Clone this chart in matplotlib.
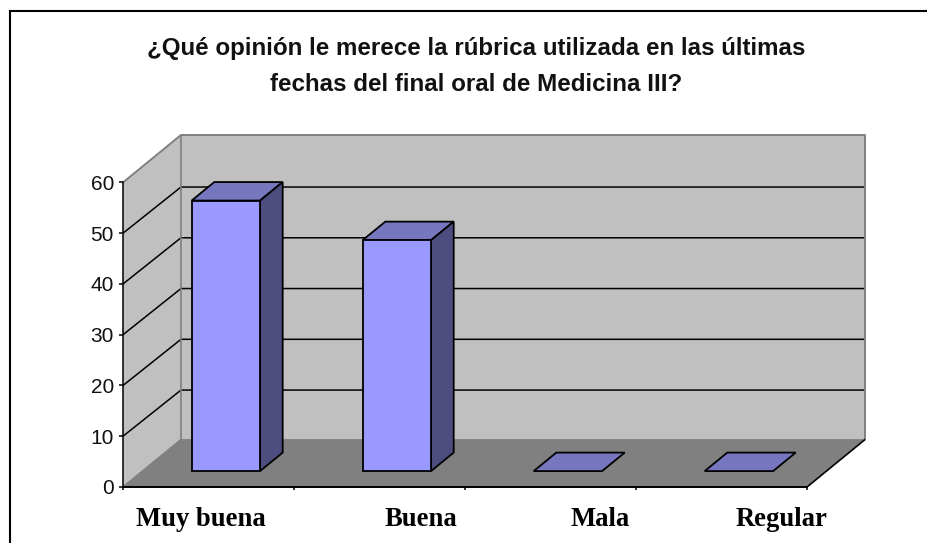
import matplotlib
matplotlib.use('Agg')
import matplotlib.pyplot as plt
from matplotlib.lines import Line2D
from matplotlib.patches import Polygon

categories = ['Muy buena', 'Buena', 'Mala', 'Regular']
values = [53.3, 45.5, 0, 0]
y_ticks = [0, 10, 20, 30, 40, 50, 60]
title = '¿Qué opinión le merece la rúbrica utilizada en las últimas\nfechas del final oral de Medicina III?'

W, H = 927, 543
DX, DY = 0.339, 9.35        # oblique offset of the full chart depth, in data units
GRID_DY = 9.1               # gridlines rise a little less than the floor does
BAR_WIDTH = 0.4
BAR_SHIFT = -0.012
BAR_FRONT, BAR_BACK = 0.335, 0.725   # where the bars sit along the depth
LABEL_POS = [0.455, 1.74, 2.79, 3.85]   # category labels are not centred under their bars

WALL = '#C0C0C0'
FLOOR = '#808080'
EDGE = '#808080'
BAR_FACE = '#9999FF'
BAR_TOP = '#7777C0'
BAR_SIDE = '#4D4D80'


def poly(ax, pts, color, edge='none', lw=0, z=1):
    ax.add_patch(Polygon(pts, closed=True, facecolor=color, edgecolor=edge, linewidth=lw,
                         zorder=z, joinstyle='miter', clip_on=False))


def draw_walls(ax):
    ymax = y_ticks[-1]
    xmax = len(categories)
    poly(ax, [(DX, DY), (xmax + DX, DY), (xmax + DX, ymax + DY), (DX, ymax + DY)], WALL)
    poly(ax, [(0, 0), (DX, DY), (DX, ymax + DY), (0, ymax)], WALL)
    poly(ax, [(0, 0), (xmax, 0), (xmax + DX, DY), (DX, DY)], FLOOR)

    # rejilla: pared lateral y pared del fondo
    for t in y_ticks[1:-1]:
        ax.plot([0, DX, xmax + DX], [t, t + GRID_DY, t + GRID_DY], color='black', lw=1.1, zorder=2,
                solid_joinstyle='miter')

    ax.plot([0, DX, xmax + DX, xmax + DX], [ymax, ymax + DY, ymax + DY, DY], color=EDGE, lw=1.4,
            zorder=2, clip_on=False)
    ax.plot([0, DX, DX], [0, DY, ymax + DY], color=EDGE, lw=1.2, zorder=2)
    ax.plot([DX, xmax + DX], [DY, DY], color=EDGE, lw=1.2, zorder=2)
    ax.plot([xmax, xmax + DX], [0, DY], color='black', lw=1.2, zorder=2)


def draw_bars(ax):
    for i, v in enumerate(values):
        x0 = i + 0.5 - BAR_WIDTH / 2 + BAR_SHIFT
        x1 = x0 + BAR_WIDTH
        fx, fy = BAR_FRONT * DX, BAR_FRONT * DY
        bx, by = BAR_BACK * DX, BAR_BACK * DY
        kw = dict(edge='black', lw=1.3, z=3)
        poly(ax, [(x0 + fx, fy + v), (x1 + fx, fy + v), (x1 + bx, by + v), (x0 + bx, by + v)], BAR_TOP, **kw)
        if v > 0:
            poly(ax, [(x1 + fx, fy), (x1 + bx, by), (x1 + bx, by + v), (x1 + fx, fy + v)], BAR_SIDE, **kw)
            poly(ax, [(x0 + fx, fy), (x1 + fx, fy), (x1 + fx, fy + v), (x0 + fx, fy + v)], BAR_FACE, **kw)


fig = plt.figure(figsize=(W / 100, H / 100), dpi=100)
ax = fig.add_axes([123 / W, (H - 487) / H, 742 / W, 352 / H])
ax.set_xlim(0, len(categories) + DX)
ax.set_ylim(0, y_ticks[-1] + DY)
ax.patch.set_visible(False)

draw_walls(ax)
draw_bars(ax)

for s in ['top', 'right']:
    ax.spines[s].set_visible(False)
ax.spines['left'].set_bounds(0, y_ticks[-1])
ax.spines['bottom'].set_bounds(0, len(categories))
ax.spines['left'].set_linewidth(1.1)
ax.spines['bottom'].set_linewidth(1.4)
ax.spines['left'].set_zorder(4)
ax.spines['bottom'].set_zorder(4)

ax.set_yticks(y_ticks)
ax.set_yticklabels([str(t) for t in y_ticks], family='Liberation Sans', fontsize=15, color='#111111')
ax.tick_params(axis='y', length=3, width=1.1, pad=3.5)

ax.set_xticks(range(len(categories) + 1))
ax.set_xticklabels([])
ax.tick_params(axis='x', which='major', length=2.5, width=1.1)
ax.set_xticks(LABEL_POS, minor=True)
ax.set_xticklabels(categories, minor=True, family='Liberation Serif', fontweight='bold', fontsize=19.2)
ax.tick_params(axis='x', which='minor', length=0, pad=14.5)

fig.text(476 / W, (H - 66.5) / H, title, ha='center', va='center', family='Liberation Sans',
         fontweight='bold', fontsize=17.4, linespacing=1.74, color='#111111')

# marco del gráfico, cortado por los bordes de la imagen
fig.add_artist(Line2D([10 / W, 10 / W, 1], [0, (H - 11) / H, (H - 11) / H], color='black', lw=1.5,
                      solid_joinstyle='miter'))

fig.savefig('out.png', dpi=100)
